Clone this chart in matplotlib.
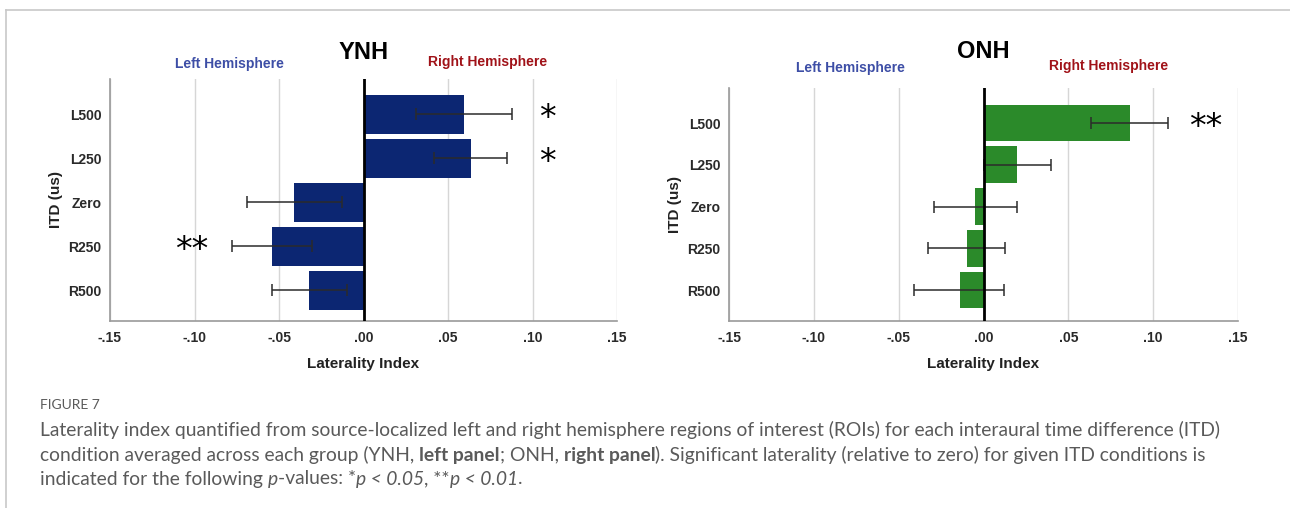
import numpy as np
import matplotlib
matplotlib.use("Agg")
import matplotlib.pyplot as plt

# ITD conditions, top to bottom
conditions = ["L500", "L250", "Zero", "R250", "R500"]

# mean laterality index per condition, with the error-bar ends (lower, upper)
ynh_mean = [0.0595, 0.0635, -0.041, -0.054, -0.032]
ynh_low = [0.031, 0.042, -0.069, -0.078, -0.054]
ynh_high = [0.088, 0.085, -0.013, -0.0305, -0.010]
ynh_stars = ["*", "*", "", "**", ""]
ynh_star_x = [0.109, 0.109, 0.0, -0.1015, 0.0]

onh_mean = [0.0865, 0.020, -0.005, -0.010, -0.014]
onh_low = [0.0635, 0.000, -0.029, -0.033, -0.041]
onh_high = [0.109, 0.040, 0.0195, 0.0125, 0.012]
onh_stars = ["**", "", "", "", ""]
onh_star_x = [0.131, 0.0, 0.0, 0.0, 0.0]

x_ticks = [-0.15, -0.10, -0.05, 0.0, 0.05, 0.10, 0.15]
x_ticklabels = ["-.15", "-.10", "-.05", ".00", ".05", ".10", ".15"]

chart_font = ["Liberation Sans", "DejaVu Sans"]
caption_font = ["Lato", "Open Sans", "DejaVu Sans"]

fig = plt.figure(figsize=(12.9, 5.08), dpi=100)


def panel(rect, ylim, title, means, lows, highs, stars, star_x, color,
          title_y, left_lab, right_lab):
    ax = fig.add_axes(rect)
    pos = np.arange(len(conditions))[::-1]
    means = np.array(means)
    err = np.array([means - np.array(lows), np.array(highs) - means])
    ax.barh(pos, means, height=0.88, color=color, zorder=2)
    ax.errorbar(means, pos, xerr=err, fmt="none", ecolor="#2b2b2b",
                elinewidth=1.1, capsize=4.5, capthick=1.1, zorder=3)
    ax.axvline(0, color="black", lw=2.0, zorder=4)
    ax.set_xlim(-0.15, 0.15)
    ax.set_ylim(*ylim)
    ax.set_xticks(x_ticks)
    ax.set_xticklabels(x_ticklabels)
    ax.set_yticks(pos)
    ax.set_yticklabels(conditions)
    ax.tick_params(length=0, labelsize=10)
    ax.tick_params(axis="x", pad=7)
    ax.tick_params(axis="y", pad=6)
    for lab in ax.get_xticklabels() + ax.get_yticklabels():
        lab.set_family(chart_font)
        lab.set_fontweight("bold")
        lab.set_color("#2a2a2a")
    ax.grid(axis="x", color="#d6d6d6", lw=1.0, zorder=0)
    ax.set_axisbelow(True)
    for s in ["top", "right"]:
        ax.spines[s].set_visible(False)
    for s in ["left", "bottom"]:
        ax.spines[s].set_color("#9a9a9a")
        ax.spines[s].set_linewidth(1.2)
    ax.set_xlabel("Laterality Index", fontsize=11, fontweight="bold",
                  family=chart_font, labelpad=9, color="#222222")
    ax.set_ylabel("ITD (us)", fontsize=11, fontweight="bold",
                  family=chart_font, labelpad=4, color="#222222")
    for p, s, sx in zip(pos, stars, star_x):
        if s:
            ax.text(sx, p - 0.1, s, ha="center", va="center",
                    fontsize=24, family="DejaVu Sans", color="black")
    # group title and hemisphere labels above the plot area
    trans = ax.get_xaxis_transform()
    ax.text(0.0, title_y, title, ha="center", va="center",
            fontsize=17, fontweight="bold", family=chart_font,
            transform=trans)
    ax.text(left_lab[0], left_lab[1], "Left Hemisphere", ha="center", va="center",
            fontsize=10, fontweight="bold", family=chart_font, color="#3d4ea6",
            transform=trans)
    ax.text(right_lab[0], right_lab[1], "Right Hemisphere", ha="center", va="center",
            fontsize=10, fontweight="bold", family=chart_font, color="#a01218",
            transform=trans)
    return ax


# left panel: YNH
panel([110 / 1290, 1 - 321 / 508, 507 / 1290, 242 / 508], (-0.7, 4.8), "YNH",
      ynh_mean, ynh_low, ynh_high, ynh_stars, ynh_star_x, "#0c2672",
      1.11, (-0.0795, 1.062), (0.0735, 1.07))
# right panel: ONH
panel([729 / 1290, 1 - 321 / 508, 509 / 1290, 233 / 508], (-0.74, 4.84), "ONH",
      onh_mean, onh_low, onh_high, onh_stars, onh_star_x, "#2b8a2a",
      1.155, (-0.0785, 1.086), (0.0735, 1.094))

# frame lines
fig.add_artist(plt.Line2D([6 / 1290, 1.0], [1 - 10 / 508] * 2, color="#c8c8c8",
                          lw=1.2, transform=fig.transFigure))
fig.add_artist(plt.Line2D([6 / 1290] * 2, [1 - 10 / 508, 0.0], color="#c8c8c8",
                          lw=1.2, transform=fig.transFigure))

# caption
cap_color = "#5a5a5a"
fig.text(40 / 1290, 1 - 405 / 508, "FIGURE 7", fontsize=10, color=cap_color,
         family=caption_font, va="center")

caption_lines = [
    [("Laterality index quantified from source-localized left and right hemisphere "
      "regions of interest (ROIs) for each interaural time difference (ITD)", "normal", "normal")],
    [("condition averaged across each group (YNH, ", "normal", "normal"),
     ("left panel", "bold", "normal"),
     ("; ONH, ", "normal", "normal"),
     ("right panel", "bold", "normal"),
     ("). Significant laterality (relative to zero) for given ITD conditions is", "normal", "normal")],
    [("indicated for the following ", "normal", "normal"),
     ("p", "normal", "italic"),
     ("-values: *", "normal", "normal"),
     ("p < 0.05", "normal", "italic"),
     (", **", "normal", "normal"),
     ("p < 0.01", "normal", "italic"),
     (".", "normal", "normal")],
]
line_y = [430, 455, 479]

fig.canvas.draw()
renderer = fig.canvas.get_renderer()
for runs, y in zip(caption_lines, line_y):
    x = 40
    for text, weight, style in runs:
        t = fig.text(x / 1290, 1 - y / 508, text, fontsize=13.9, color=cap_color,
                     family=caption_font, fontweight=weight, fontstyle=style,
                     va="center")
        bb = t.get_window_extent(renderer=renderer)
        x += bb.width

fig.savefig("out.png", dpi=100)
